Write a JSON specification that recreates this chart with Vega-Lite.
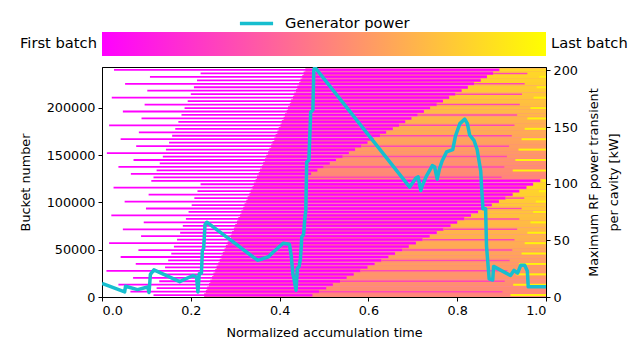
{
  "$schema": "https://vega.github.io/schema/vega-lite/v6.json",
  "background": "white",
  "padding": {"left": 18, "top": 5, "right": 5, "bottom": 4},
  "bounds": "flush",
  "spacing": 11,
  "config": {
    "font": "DejaVu Sans",
    "axis": {"labelFont": "DejaVu Sans", "labelFontSize": 12.8, "labelColor": "black", "titleFont": "DejaVu Sans", "titleFontSize": 12.8, "titleFontWeight": "normal", "titleColor": "black", "tickColor": "black", "domainColor": "black", "tickSize": 4, "grid": false, "labelPadding": 3, "zindex": 1},
    "legend": {"labelFont": "DejaVu Sans", "labelFontSize": 14.7, "labelColor": "black"},
    "text": {"font": "DejaVu Sans", "fontSize": 14.7}
  },
  "datasets": {
    "d2": [
      {"b":2000,"x":0.230,"c":0.3},{"b":5660,"x":0.234,"c":0.3},{"b":9320,"x":0.237,"c":0.3},{"b":12980,"x":0.241,"c":0.3},{"b":16640,"x":0.244,"c":0.3},{"b":20300,"x":0.248,"c":0.3},{"b":23960,"x":0.251,"c":0.3},{"b":27620,"x":0.255,"c":0.3},{"b":31280,"x":0.258,"c":0.3},{"b":34940,"x":0.262,"c":0.3},{"b":38600,"x":0.265,"c":0.3},{"b":42260,"x":0.269,"c":0.3},{"b":45920,"x":0.272,"c":0.3},{"b":49580,"x":0.276,"c":0.3},{"b":53240,"x":0.279,"c":0.3},{"b":56900,"x":0.283,"c":0.3},{"b":60560,"x":0.286,"c":0.3},{"b":64220,"x":0.290,"c":0.3},{"b":67880,"x":0.293,"c":0.3},{"b":71540,"x":0.297,"c":0.3},{"b":75200,"x":0.300,"c":0.3},{"b":78860,"x":0.304,"c":0.3},{"b":82520,"x":0.307,"c":0.3},{"b":86180,"x":0.311,"c":0.3},{"b":89840,"x":0.314,"c":0.3},{"b":93500,"x":0.318,"c":0.3},{"b":97160,"x":0.321,"c":0.3},{"b":100820,"x":0.325,"c":0.3},{"b":104480,"x":0.328,"c":0.3},{"b":108140,"x":0.332,"c":0.3},{"b":111800,"x":0.335,"c":0.3},{"b":115460,"x":0.339,"c":0.3},{"b":119120,"x":0.342,"c":0.3},{"b":122780,"x":0.346,"c":0.3},{"b":126440,"x":0.349,"c":0.3},{"b":130100,"x":0.353,"c":0.3},{"b":133760,"x":0.356,"c":0.3},{"b":137420,"x":0.360,"c":0.3},{"b":141080,"x":0.363,"c":0.3},{"b":144740,"x":0.367,"c":0.3},{"b":148400,"x":0.370,"c":0.3},{"b":152060,"x":0.374,"c":0.3},{"b":155720,"x":0.377,"c":0.3},{"b":159380,"x":0.381,"c":0.3},{"b":163040,"x":0.384,"c":0.3},{"b":166700,"x":0.388,"c":0.3},{"b":170360,"x":0.391,"c":0.3},{"b":174020,"x":0.395,"c":0.3},{"b":177680,"x":0.398,"c":0.3},{"b":181340,"x":0.402,"c":0.3},{"b":185000,"x":0.405,"c":0.3},{"b":188660,"x":0.409,"c":0.3},{"b":192320,"x":0.412,"c":0.3},{"b":195980,"x":0.416,"c":0.3},{"b":199640,"x":0.419,"c":0.3},{"b":203300,"x":0.423,"c":0.3},{"b":206960,"x":0.426,"c":0.3},{"b":210620,"x":0.430,"c":0.3},{"b":214280,"x":0.433,"c":0.3},{"b":217940,"x":0.437,"c":0.3},{"b":221600,"x":0.440,"c":0.3},{"b":225260,"x":0.444,"c":0.3},{"b":228920,"x":0.447,"c":0.3},{"b":232580,"x":0.451,"c":0.3},{"b":236240,"x":0.454,"c":0.3},{"b":239900,"x":0.458,"c":0.3}
    ],
    "mag": [
      {"b":2000,"x":0.116,"c":0},{"b":5660,"x":0.064,"c":0},{"b":9320,"x":0.123,"c":0},{"b":12980,"x":0.037,"c":0},{"b":16640,"x":0.129,"c":0},{"b":20300,"x":0.070,"c":0},{"b":23960,"x":0.136,"c":0},{"b":27620,"x":0.010,"c":0},{"b":31280,"x":0.142,"c":0},{"b":34940,"x":0.076,"c":0},{"b":38600,"x":0.149,"c":0},{"b":42260,"x":0.042,"c":0},{"b":45920,"x":0.156,"c":0},{"b":49580,"x":0.082,"c":0},{"b":53240,"x":0.162,"c":0},{"b":56900,"x":0.016,"c":0},{"b":60560,"x":0.169,"c":0},{"b":64220,"x":0.088,"c":0},{"b":67880,"x":0.176,"c":0},{"b":71540,"x":0.047,"c":0},{"b":75200,"x":0.182,"c":0},{"b":78860,"x":0.094,"c":0},{"b":82520,"x":0.189,"c":0},{"b":86180,"x":0.021,"c":0},{"b":89840,"x":0.195,"c":0},{"b":93500,"x":0.099,"c":0},{"b":97160,"x":0.202,"c":0},{"b":100820,"x":0.051,"c":0},{"b":104480,"x":0.208,"c":0},{"b":108140,"x":0.105,"c":0},{"b":111800,"x":0.215,"c":0},{"b":115460,"x":0.026,"c":0},{"b":119120,"x":0.222,"c":0},{"b":122780,"x":0.111,"c":0},
      {"b":126440,"x":0.116,"c":0},{"b":130100,"x":0.065,"c":0},{"b":133760,"x":0.123,"c":0},{"b":137420,"x":0.037,"c":0},{"b":141080,"x":0.130,"c":0},{"b":144740,"x":0.071,"c":0},{"b":148400,"x":0.137,"c":0},{"b":152060,"x":0.011,"c":0},{"b":155720,"x":0.144,"c":0},{"b":159380,"x":0.077,"c":0},{"b":163040,"x":0.151,"c":0},{"b":166700,"x":0.042,"c":0},{"b":170360,"x":0.158,"c":0},{"b":174020,"x":0.083,"c":0},{"b":177680,"x":0.165,"c":0},{"b":181340,"x":0.016,"c":0},{"b":185000,"x":0.172,"c":0},{"b":188660,"x":0.089,"c":0},{"b":192320,"x":0.179,"c":0},{"b":195980,"x":0.047,"c":0},{"b":199640,"x":0.186,"c":0},{"b":203300,"x":0.096,"c":0},{"b":206960,"x":0.193,"c":0},{"b":210620,"x":0.022,"c":0},{"b":214280,"x":0.200,"c":0},{"b":217940,"x":0.102,"c":0},{"b":221600,"x":0.207,"c":0},{"b":225260,"x":0.052,"c":0},{"b":228920,"x":0.214,"c":0},{"b":232580,"x":0.108,"c":0},{"b":236240,"x":0.222,"c":0},{"b":239900,"x":0.027,"c":0}
    ],
    "bf": [
      {"b":2000,"x":0.474,"c":0.525},{"b":5660,"x":0.489,"c":0.535},{"b":9320,"x":0.505,"c":0.545},{"b":12980,"x":0.520,"c":0.555},{"b":16640,"x":0.536,"c":0.565},{"b":20300,"x":0.551,"c":0.575},{"b":23960,"x":0.567,"c":0.585},{"b":27620,"x":0.582,"c":0.595},{"b":31280,"x":0.598,"c":0.605},{"b":34940,"x":0.614,"c":0.615},{"b":38600,"x":0.629,"c":0.625},{"b":42260,"x":0.645,"c":0.635},{"b":45920,"x":0.660,"c":0.645},{"b":49580,"x":0.676,"c":0.655},{"b":53240,"x":0.691,"c":0.665},{"b":56900,"x":0.707,"c":0.675},{"b":60560,"x":0.722,"c":0.685},{"b":64220,"x":0.738,"c":0.695},{"b":67880,"x":0.754,"c":0.705},{"b":71540,"x":0.769,"c":0.715},{"b":75200,"x":0.785,"c":0.725},{"b":78860,"x":0.800,"c":0.735},{"b":82520,"x":0.816,"c":0.745},{"b":86180,"x":0.831,"c":0.755},{"b":89840,"x":0.847,"c":0.765},{"b":93500,"x":0.862,"c":0.775},{"b":97160,"x":0.878,"c":0.785},{"b":100820,"x":0.894,"c":0.795},{"b":104480,"x":0.909,"c":0.805},{"b":108140,"x":0.925,"c":0.815},{"b":111800,"x":0.940,"c":0.825},{"b":115460,"x":0.956,"c":0.835},{"b":119120,"x":0.971,"c":0.845},{"b":122780,"x":0.987,"c":0.855},
      {"b":126440,"x":0.457,"c":0.525},{"b":130100,"x":0.471,"c":0.536},{"b":133760,"x":0.485,"c":0.546},{"b":137420,"x":0.499,"c":0.557},{"b":141080,"x":0.513,"c":0.567},{"b":144740,"x":0.527,"c":0.578},{"b":148400,"x":0.542,"c":0.588},{"b":152060,"x":0.556,"c":0.599},{"b":155720,"x":0.570,"c":0.609},{"b":159380,"x":0.584,"c":0.620},{"b":163040,"x":0.598,"c":0.630},{"b":166700,"x":0.612,"c":0.641},{"b":170360,"x":0.626,"c":0.651},{"b":174020,"x":0.640,"c":0.662},{"b":177680,"x":0.655,"c":0.672},{"b":181340,"x":0.669,"c":0.683},{"b":185000,"x":0.683,"c":0.693},{"b":188660,"x":0.697,"c":0.704},{"b":192320,"x":0.711,"c":0.714},{"b":195980,"x":0.725,"c":0.725},{"b":199640,"x":0.739,"c":0.735},{"b":203300,"x":0.754,"c":0.746},{"b":206960,"x":0.768,"c":0.756},{"b":210620,"x":0.782,"c":0.767},{"b":214280,"x":0.796,"c":0.777},{"b":217940,"x":0.810,"c":0.788},{"b":221600,"x":0.824,"c":0.798},{"b":225260,"x":0.838,"c":0.809},{"b":228920,"x":0.853,"c":0.819},{"b":232580,"x":0.867,"c":0.830},{"b":236240,"x":0.881,"c":0.840},{"b":239900,"x":0.895,"c":0.851}
    ],
    "stripe": [
      {"b":5660,"x":0.489,"x2":0.902,"c":0.28},{"b":16640,"x":0.536,"x2":0.907,"c":0.28},{"b":27620,"x":0.582,"x2":0.913,"c":0.28},{"b":38600,"x":0.629,"x2":0.918,"c":0.28},{"b":49580,"x":0.676,"x2":0.924,"c":0.28},{"b":60560,"x":0.722,"x2":0.929,"c":0.28},{"b":71540,"x":0.769,"x2":0.935,"c":0.28},{"b":82520,"x":0.816,"x2":0.940,"c":0.28},{"b":93500,"x":0.862,"x2":0.945,"c":0.28},{"b":104480,"x":0.909,"x2":0.951,"c":0.28},
      {"b":126440,"x":0.457,"x2":0.900,"c":0.28},{"b":137420,"x":0.499,"x2":0.906,"c":0.28},{"b":148400,"x":0.542,"x2":0.912,"c":0.28},{"b":159380,"x":0.584,"x2":0.917,"c":0.28},{"b":170360,"x":0.626,"x2":0.923,"c":0.28},{"b":181340,"x":0.669,"x2":0.929,"c":0.28},{"b":192320,"x":0.711,"x2":0.935,"c":0.28},{"b":203300,"x":0.754,"x2":0.941,"c":0.28},{"b":214280,"x":0.796,"x2":0.946,"c":0.28},{"b":225260,"x":0.838,"x2":0.952,"c":0.28},{"b":236240,"x":0.881,"x2":0.958,"c":0.28}
    ],
    "yel": [
      {"b":2000,"x":0.920,"c":0.95},{"b":12980,"x":0.926,"c":0.95},{"b":23960,"x":0.933,"c":0.95},{"b":34940,"x":0.939,"c":0.95},{"b":45920,"x":0.945,"c":0.95},{"b":56900,"x":0.952,"c":0.95},{"b":67880,"x":0.958,"c":0.95},{"b":78860,"x":0.965,"c":0.95},{"b":89840,"x":0.971,"c":0.95},{"b":100820,"x":0.977,"c":0.95},{"b":111800,"x":0.984,"c":0.95},{"b":122780,"x":0.992,"c":0.95},
      {"b":133760,"x":0.925,"c":0.95},{"b":144740,"x":0.931,"c":0.95},{"b":155720,"x":0.938,"c":0.95},{"b":166700,"x":0.945,"c":0.95},{"b":177680,"x":0.952,"c":0.95},{"b":188660,"x":0.958,"c":0.95},{"b":199640,"x":0.965,"c":0.95},{"b":210620,"x":0.972,"c":0.95},{"b":221600,"x":0.979,"c":0.95},{"b":232580,"x":0.985,"c":0.95}
    ],
    "power": [
      {"t":0.000,"kw":12},{"t":0.051,"kw":4.5},{"t":0.053,"kw":9.5},{"t":0.080,"kw":6.5},{"t":0.103,"kw":8.8},{"t":0.106,"kw":4},{"t":0.109,"kw":20},{"t":0.117,"kw":24},{"t":0.175,"kw":13.5},{"t":0.205,"kw":19},{"t":0.213,"kw":17.5},{"t":0.216,"kw":4.5},{"t":0.219,"kw":20.5},{"t":0.224,"kw":21},{"t":0.226,"kw":41},{"t":0.229,"kw":43},{"t":0.232,"kw":64},{"t":0.236,"kw":66},
      {"t":0.350,"kw":32.5},{"t":0.356,"kw":33},{"t":0.375,"kw":35.5},{"t":0.384,"kw":39},{"t":0.408,"kw":47.5},{"t":0.422,"kw":46.5},{"t":0.426,"kw":37},{"t":0.430,"kw":20},{"t":0.432,"kw":17},{"t":0.437,"kw":6},{"t":0.440,"kw":25},{"t":0.444,"kw":27},{"t":0.447,"kw":34},{"t":0.450,"kw":53},{"t":0.454,"kw":55},{"t":0.457,"kw":70},{"t":0.459,"kw":76},{"t":0.461,"kw":119},{"t":0.466,"kw":121},{"t":0.470,"kw":163},{"t":0.475,"kw":165},{"t":0.477,"kw":200},{"t":0.479,"kw":203},
      {"t":0.693,"kw":97},{"t":0.707,"kw":105},{"t":0.712,"kw":106},{"t":0.718,"kw":94},{"t":0.722,"kw":99},{"t":0.731,"kw":107},{"t":0.744,"kw":116},{"t":0.749,"kw":115},{"t":0.755,"kw":104},{"t":0.760,"kw":113},{"t":0.766,"kw":120},{"t":0.776,"kw":128},{"t":0.790,"kw":130},{"t":0.796,"kw":142},{"t":0.806,"kw":153},{"t":0.817,"kw":157},{"t":0.823,"kw":153},{"t":0.828,"kw":143},{"t":0.838,"kw":138},{"t":0.845,"kw":130},{"t":0.853,"kw":111},{"t":0.856,"kw":90},{"t":0.858,"kw":78},{"t":0.864,"kw":78},{"t":0.866,"kw":45},{"t":0.872,"kw":16},{"t":0.880,"kw":15},{"t":0.882,"kw":27},{"t":0.920,"kw":19},{"t":0.928,"kw":23.5},{"t":0.936,"kw":21},{"t":0.943,"kw":28},{"t":0.952,"kw":28},{"t":0.958,"kw":23},{"t":0.960,"kw":9},{"t":1.000,"kw":9}
    ]
  },
  "vconcat": [
    {
      "width": 444,
      "height": 24,
      "view": {"stroke": null},
      "data": {"values": [{"from": 0, "to": 1, "first": "First batch", "last": "Last batch"}]},
      "layer": [
        {
          "mark": {"type": "rect", "color": {"gradient": "linear", "x1": 0, "x2": 1, "y1": 0, "y2": 0, "stops": [{"offset": 0, "color": "#ff00ff"}, {"offset": 1, "color": "#ffff00"}]}},
          "encoding": {
            "x": {"field": "from", "type": "quantitative", "scale": {"domain": [0, 1], "nice": false}, "axis": null},
            "x2": {"field": "to"}
          }
        },
        {
          "mark": {"type": "text", "align": "right", "baseline": "middle", "dx": -5, "fontSize": 14.7, "color": "black"},
          "encoding": {"x": {"field": "from", "type": "quantitative"}, "text": {"field": "first"}}
        },
        {
          "mark": {"type": "text", "align": "left", "baseline": "middle", "dx": 5, "fontSize": 14.7, "color": "black"},
          "encoding": {"x": {"field": "to", "type": "quantitative"}, "text": {"field": "last"}}
        }
      ]
    },
    {
      "width": 444,
      "height": 230,
      "view": {"stroke": "black", "strokeWidth": 1},
      "layer": [
        {
          "layer": [
            {
              "data": {"name": "d2"},
              "mark": {"type": "rule", "strokeWidth": 3.6, "strokeCap": "butt", "clip": true},
              "encoding": {
                "x": {"field": "x", "type": "quantitative", "scale": {"domain": [0, 1], "nice": false}, "axis": {"values": [0, 0.2, 0.4, 0.6, 0.8, 1], "format": ".1f", "title": "Normalized accumulation time", "titlePadding": 10}},
                "x2": {"datum": 1},
                "y": {"field": "b", "type": "quantitative", "scale": {"domain": [0, 243000], "nice": false}, "axis": {"values": [0, 50000, 100000, 150000, 200000], "format": "d", "title": "Bucket number", "titlePadding": 14}},
                "color": {"field": "c", "type": "quantitative", "scale": {"domain": [0, 1], "range": ["#ff00ff", "#ffff00"], "interpolate": "rgb"}, "legend": null}
              }
            },
            {
              "data": {"name": "mag"},
              "mark": {"type": "rule", "strokeWidth": 1.8, "strokeCap": "butt", "clip": true},
              "encoding": {
                "x": {"field": "x", "type": "quantitative"},
                "x2": {"datum": 1},
                "y": {"field": "b", "type": "quantitative"},
                "color": {"field": "c", "type": "quantitative", "legend": null}
              }
            },
            {
              "data": {"name": "bf"},
              "mark": {"type": "rule", "strokeWidth": 3.6, "strokeCap": "butt", "clip": true},
              "encoding": {
                "x": {"field": "x", "type": "quantitative"},
                "x2": {"datum": 1},
                "y": {"field": "b", "type": "quantitative"},
                "color": {"field": "c", "type": "quantitative", "legend": null}
              }
            },
            {
              "data": {"name": "stripe"},
              "mark": {"type": "rule", "strokeWidth": 1.5, "strokeCap": "butt", "clip": true},
              "encoding": {
                "x": {"field": "x", "type": "quantitative"},
                "x2": {"field": "x2"},
                "y": {"field": "b", "type": "quantitative"},
                "color": {"field": "c", "type": "quantitative", "legend": null}
              }
            },
            {
              "data": {"name": "yel"},
              "mark": {"type": "rule", "strokeWidth": 2, "strokeCap": "butt", "clip": true},
              "encoding": {
                "x": {"field": "x", "type": "quantitative"},
                "x2": {"datum": 1},
                "y": {"field": "b", "type": "quantitative"},
                "color": {"field": "c", "type": "quantitative", "legend": null}
              }
            }
          ]
        },
        {
          "data": {"name": "power"},
          "mark": {"type": "line", "strokeWidth": 3.5, "strokeJoin": "round", "strokeCap": "butt", "clip": true},
          "encoding": {
            "x": {"field": "t", "type": "quantitative"},
            "y": {"field": "kw", "type": "quantitative", "scale": {"domain": [0, 203], "nice": false}, "axis": {"orient": "right", "values": [0, 50, 100, 150, 200], "title": ["Maximum RF power transient", "per cavity [kW]"], "titleAngle": 270, "titleBaseline": "top", "titlePadding": -10, "titleLineHeight": 20}},
            "stroke": {"datum": "Generator power", "type": "nominal", "scale": {"range": ["#17becf"]}, "legend": {"orient": "none", "legendX": 136, "legendY": -27, "title": null, "symbolType": "stroke", "symbolStrokeWidth": 3.5, "symbolSize": 1100, "labelFontSize": 14.7, "labelOffset": 10}}
          }
        }
      ],
      "resolve": {"scale": {"y": "independent"}}
    }
  ]
}
